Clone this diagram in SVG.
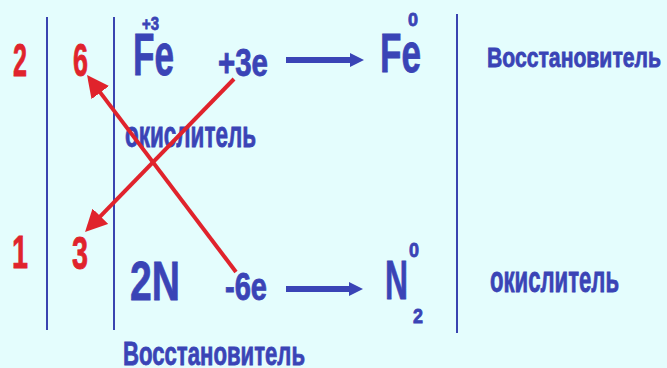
<svg xmlns="http://www.w3.org/2000/svg" width="667" height="368" viewBox="0 0 667 368">
<style>
  text { font-family: "Liberation Sans", Arial, sans-serif; font-weight: bold; }
  .b { fill: #3a44b6; stroke: #3a44b6; stroke-width: 0.8; }
  .r { fill: #e0232c; stroke: #e0232c; stroke-width: 0.8; }
  .sep { stroke: #3a44b0; stroke-width: 2; fill: none; }
  .ra { stroke: #e0232c; stroke-width: 4; fill: none; marker-end: url(#rh); }
  .ba { stroke: #3a44b6; stroke-width: 6; fill: none; marker-end: url(#bh); }
</style>
<defs>
  <marker id="rh" markerUnits="userSpaceOnUse" markerWidth="22" markerHeight="22" refX="4" refY="11" orient="auto">
    <path d="M0,0 L22,11 L0,22 z" fill="#e0232c"/>
  </marker>
  <marker id="bh" markerUnits="userSpaceOnUse" markerWidth="14" markerHeight="14" refX="2" refY="7" orient="auto">
    <path d="M0,0 L14,7 L0,14 z" fill="#3a44b6"/>
  </marker>
</defs>
<rect width="667" height="368" fill="#e4fdfd"/>

<g id="separators">
  <line class="sep" x1="47" y1="17" x2="47" y2="330"/>
  <line class="sep" x1="114" y1="17" x2="114" y2="330"/>
  <line class="sep" x1="457" y1="14" x2="457" y2="333"/>
</g>

<g id="coef-top">
  <text class="r" x="13" y="76" font-size="46" textLength="14" lengthAdjust="spacingAndGlyphs">2</text>
  <text class="r" x="73" y="76" font-size="46" textLength="15" lengthAdjust="spacingAndGlyphs">6</text>
</g>
<g id="coef-bottom">
  <text class="r" x="12" y="268" font-size="46" textLength="16" lengthAdjust="spacingAndGlyphs">1</text>
  <text class="r" x="72" y="269" font-size="46" textLength="16" lengthAdjust="spacingAndGlyphs">3</text>
</g>

<g id="fe-left">
  <text class="b" x="142" y="30" font-size="19" textLength="17" lengthAdjust="spacingAndGlyphs">+3</text>
  <text class="b" x="133" y="75" font-size="60" textLength="41" lengthAdjust="spacingAndGlyphs">Fe</text>
</g>
<g id="e-top">
  <text class="b" x="218" y="76" font-size="39" textLength="50" lengthAdjust="spacingAndGlyphs">+3e</text>
</g>
<g id="fe-right">
  <text class="b" x="408" y="26" font-size="19" textLength="10" lengthAdjust="spacingAndGlyphs">0</text>
  <text class="b" x="380" y="72" font-size="56" textLength="41" lengthAdjust="spacingAndGlyphs">Fe</text>
</g>
<g id="label-top-right">
  <text class="b" x="487" y="67" font-size="28" textLength="174" lengthAdjust="spacingAndGlyphs">Восстановитель</text>
</g>
<g id="label-mid">
  <text class="b" x="125" y="147" font-size="37" textLength="131" lengthAdjust="spacingAndGlyphs">окислитель</text>
</g>

<g id="n-left">
  <text class="b" x="130" y="300" font-size="56" textLength="50" lengthAdjust="spacingAndGlyphs">2N</text>
</g>
<g id="e-bottom">
  <text class="b" x="225" y="300" font-size="38" textLength="42" lengthAdjust="spacingAndGlyphs">-6e</text>
</g>
<g id="n-right">
  <text class="b" x="385" y="299" font-size="56" textLength="23" lengthAdjust="spacingAndGlyphs">N</text>
  <text class="b" x="409" y="257" font-size="20" textLength="10" lengthAdjust="spacingAndGlyphs">0</text>
  <text class="b" x="413" y="323" font-size="21" textLength="10" lengthAdjust="spacingAndGlyphs">2</text>
</g>
<g id="label-bottom-right">
  <text class="b" x="490" y="292" font-size="37" textLength="129" lengthAdjust="spacingAndGlyphs">окислитель</text>
</g>
<g id="label-bottom">
  <text class="b" x="123" y="365" font-size="33" textLength="182" lengthAdjust="spacingAndGlyphs">Восстановитель</text>
</g>

<g id="connectors">
  <line class="ba" x1="286" y1="60" x2="352" y2="60"/>
  <line class="ba" x1="286" y1="289" x2="351" y2="289"/>
  <line class="ra" x1="234" y1="79" x2="97.6" y2="219.1"/>
  <line class="ra" x1="236" y1="272" x2="97.9" y2="89.4"/>
</g>
</svg>
